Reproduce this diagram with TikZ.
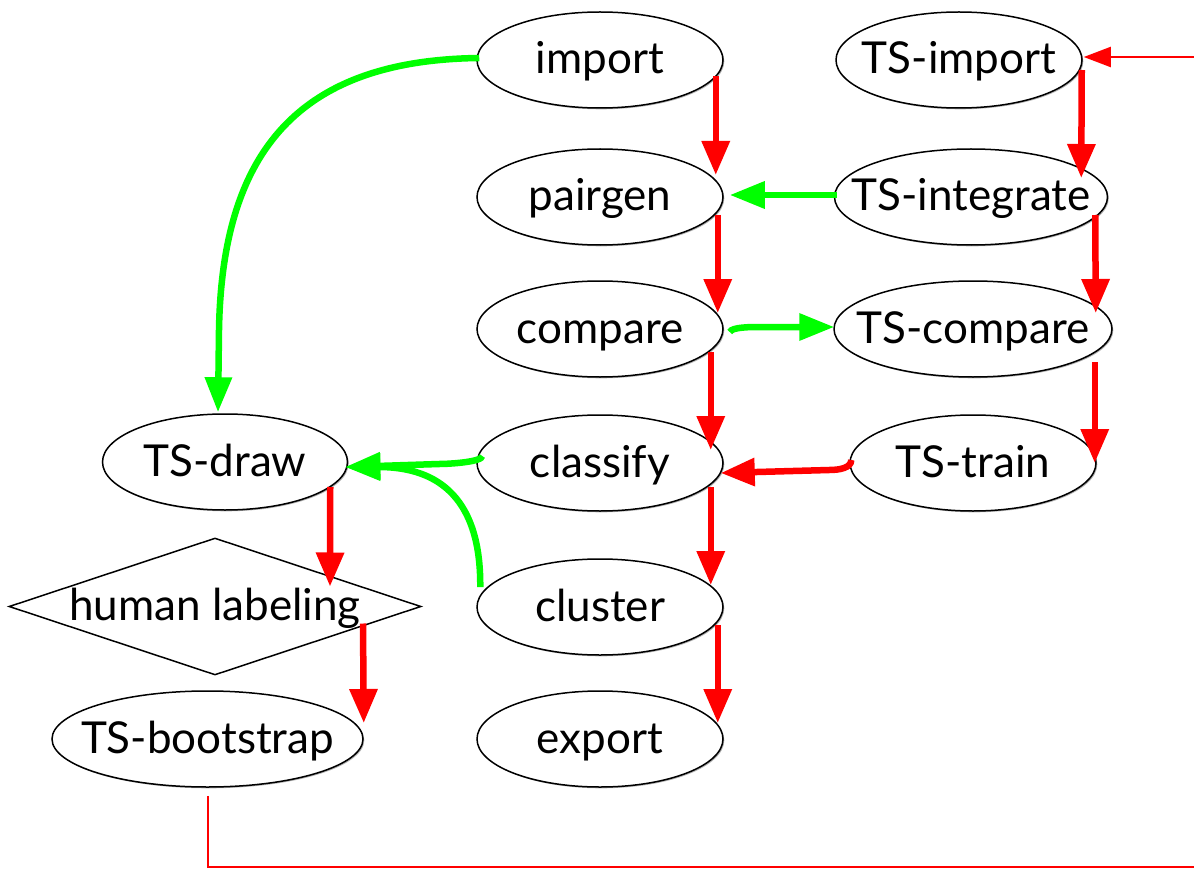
\documentclass[tikz,border=0pt]{standalone}
\usepackage{fontspec}
\setmainfont{Lato}
\usetikzlibrary{arrows.meta,shapes.geometric,shadows,calc}
\definecolor{flowred}{RGB}{255,0,0}
\definecolor{flowgreen}{RGB}{0,255,0}
\tikzset{
  stage/.style={ellipse, draw=black, line width=1.5pt, fill=white, inner sep=0pt,
    minimum height=96pt, text height=32pt, text depth=4pt,
    font=\fontsize{44}{52}\selectfont,
    drop shadow={shadow xshift=1.3pt, shadow yshift=-1.3pt, opacity=0.3, fill=black}},
  decision/.style={diamond, draw=black, line width=1.5pt, fill=white, inner sep=0pt,
    minimum width=412pt, minimum height=137pt, text height=32pt, text depth=4pt,
    font=\fontsize{44}{52}\selectfont},
  redflow/.style={draw=flowred, line width=6.5pt,
    -{Triangle[width=27pt,length=34pt]}},
  greenflow/.style={draw=flowgreen, line width=6.5pt,
    -{Triangle[width=26pt,length=35pt]}},
  feedback/.style={draw=flowred, line width=2pt,
    -{Triangle[width=20pt,length=27pt]}},
}
\newcommand{\lbl}[1]{\makebox[0pt]{#1}}
\begin{document}
\begin{tikzpicture}[x=1pt,y=-1pt]
\useasboundingbox (0,0) rectangle (1194,869);
\fill[white] (0,0) rectangle (1194,869);

% main pipeline
\node[stage, minimum width=246pt] (import)   at (600,60)  {\lbl{import}};
\node[stage, minimum width=246pt] (pairgen)  at (600,197) {\lbl{pairgen}};
\node[stage, minimum width=246pt] (compare)  at (600,329) {\lbl{compare}};
\node[stage, minimum width=246pt] (classify) at (600,463) {\lbl{classify}};
\node[stage, minimum width=246pt] (cluster)  at (600,607) {\lbl{cluster}};
\node[stage, minimum width=246pt] (export)   at (600,739) {\lbl{export}};

% training set branch
\node[stage, minimum width=246pt] (tsimport)    at (959,60)  {\lbl{TS-import}};
\node[stage, minimum width=273pt] (tsintegrate) at (971,197) {\lbl{TS-integrate}};
\node[stage, minimum width=278pt] (tscompare)   at (973,329) {\lbl{TS-compare}};
\node[stage, minimum width=246pt] (tstrain)     at (973,463) {\lbl{TS-train}};

% labeling loop
\node[stage, minimum width=245pt] (tsdraw)      at (225,462) {\lbl{TS-draw}};
\node[decision] (human) at (215,606.5) {\lbl{human labeling}};
\node[stage, minimum width=311pt] (tsbootstrap) at (207.5,739) {\lbl{TS-bootstrap}};

% pipeline steps
\draw[redflow] ($(import.east)+(-8,16)$)   -- ($(pairgen.east)+(-8,-22)$);
\draw[redflow] ($(pairgen.east)+(-6,18)$)  -- ($(compare.east)+(-6,-16)$);
\draw[redflow] ($(compare.east)+(-13,23)$) -- ($(classify.east)+(-13,-13)$);
\draw[redflow] ($(classify.east)+(-13,24)$) -- ($(cluster.east)+(-13,-22)$);
\draw[redflow] ($(cluster.east)+(-6,18)$)  -- ($(export.east)+(-6,-16)$);

% training set steps
\draw[redflow] ($(tsimport.east)+(-1,10)$)     -- ($(tsintegrate.east)+(-27,-19)$);
\draw[redflow] ($(tsintegrate.east)+(-13,18)$) -- ($(tscompare.east)+(-17,-16)$);
\draw[redflow] ($(tscompare.east)+(-18,33)$)   -- ($(tstrain.east)+(-2,0)$);
\draw[redflow] ($(tstrain.west)+(2,-3)$) .. controls +(0,8) and +(10,0) ..
  ($(tstrain.west)+(-20,7)$) -- ($(classify.east)+(-3,10)$);

% data passed between branches
\draw[greenflow] ($(tsintegrate.west)+(3,-2)$) -- ($(pairgen.east)+(6,-2)$);
\draw[greenflow] ($(compare.east)+(6,3)$) .. controls +(2,-5) and +(-10,0) ..
  ($(compare.east)+(37,-2)$) -- ($(tscompare.west)+(1,-2)$);
\draw[greenflow] ($(import.west)+(3,-2)$) .. controls (300,60) and (222,150) ..
  (219,330) -- ($(tsdraw.north)+(-7,-1)$);
\draw[greenflow] ($(classify.west)+(6,-7)$) .. controls +(0,6) and +(10,0) ..
  ($(classify.west)+(-37,1)$) -- ($(tsdraw.east)+(-3,5)$);
\draw[greenflow] ($(cluster.west)+(4,-20)$) .. controls (481,500) and (440,467) ..
  ($(tsdraw.east)+(-3,5)$);

% labeling steps
\draw[redflow] ($(tsdraw.east)+(-18,25)$) -- ($(human.center)+(115,-20)$);
\draw[redflow] ($(human.center)+(148,17)$) -- ($(tsbootstrap.east)+(0,-16)$);

% bootstrap result fed back to the import
\coordinate (loopA) at (207.5,867);
\coordinate (loopB) at (1240,867);
\coordinate (loopC) at (1240,57);
\draw[feedback] ($(tsbootstrap.south)+(0,8)$) -- (loopA) -- (loopB) -- (loopC)
  -- ($(tsimport.east)+(1,-3)$);
\end{tikzpicture}
\end{document}
